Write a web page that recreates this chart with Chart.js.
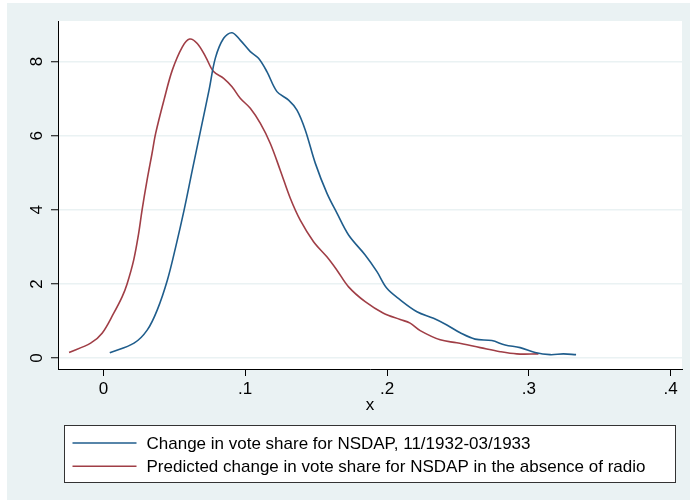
<!DOCTYPE html>
<html>
<head>
<meta charset="utf-8">
<script src="https://cdn.jsdelivr.net/npm/chart.js@4/dist/chart.umd.min.js"></script>
<style>
  body { margin: 0; background: #fff; }
  canvas { display: block; }
</style>
</head>
<body>
<canvas id="grafico" width="690" height="500"></canvas>
<script>
// ticks
const xTicks = [0, 0.1, 0.2, 0.3, 0.4];
const xTickLabels = ['0', '.1', '.2', '.3', '.4'];
const yTicks = [0, 2, 4, 6, 8];

const seriesNames = [
    'Change in vote share for NSDAP, 11/1932-03/1933',
    'Predicted change in vote share for NSDAP in the absence of radio'
];

// densidade observada (azul)
const actualX = [0.0045, 0.0216, 0.031, 0.038, 0.0451, 0.051, 0.0569, 0.0627, 0.0686, 0.0745, 0.079,
    0.0848, 0.0907, 0.0965, 0.1036, 0.1094, 0.1153, 0.1224, 0.1306, 0.1365, 0.1424, 0.1494, 0.1576,
    0.1647, 0.1729, 0.1846, 0.1929, 0.1999, 0.2093, 0.2211, 0.2328, 0.2422, 0.2516, 0.2621, 0.2739,
    0.2833, 0.2939, 0.3044, 0.315, 0.3244, 0.3333];
const actualY = [0.14, 0.40, 0.76, 1.30, 2.1, 3.0, 3.99, 5.07, 6.15, 7.23, 8.1,
    8.63, 8.78, 8.58, 8.27, 8.09, 7.73, 7.19, 6.96, 6.69, 6.15, 5.26, 4.45,
    3.91, 3.32, 2.78, 2.33, 1.88, 1.57, 1.25, 1.07, 0.89, 0.68, 0.51, 0.47,
    0.35, 0.28, 0.15, 0.09, 0.11, 0.09];

// densidade prevista sem rádio (vermelho)
const noRadioX = [-0.0242, -0.009, -0.0009, 0.0073, 0.0132, 0.0167, 0.0214, 0.0249, 0.0273, 0.0308,
    0.0343, 0.0369, 0.0427, 0.0486,
    0.0557, 0.0608, 0.0662, 0.0721, 0.0777, 0.0848, 0.0907, 0.0965, 0.1036, 0.1107, 0.1177, 0.1247,
    0.1318, 0.1388, 0.1482, 0.1576, 0.1647, 0.1729, 0.1846, 0.1975, 0.2093, 0.2163, 0.2234, 0.2375,
    0.2492, 0.2657, 0.2798, 0.2915, 0.3068];
const noRadioY = [0.15, 0.40, 0.67, 1.21, 1.65, 2.0, 2.65, 3.37, 4.0, 4.8,
    5.52, 6.07, 6.96, 7.77,
    8.4, 8.61, 8.49, 8.13, 7.73, 7.55, 7.32, 7.01, 6.74, 6.33, 5.79, 5.07,
    4.31, 3.72, 3.14, 2.73, 2.37, 1.92, 1.52, 1.21, 1.04, 0.94, 0.74, 0.49,
    0.41, 0.28, 0.17, 0.11, 0.11];

const colors = ['#1F5D8C', '#A03E46'];
const fonte = 'Liberation Sans, Arial, Helvetica, sans-serif';

function pares(xs, ys) {
    return xs.map((x, i) => ({ x: x, y: ys[i] }));
}

const fundo = {
    id: 'fundo',
    beforeDraw(chart) {
        const ctx = chart.ctx;
        const a = chart.chartArea;
        ctx.save();
        ctx.fillStyle = '#fff';
        ctx.fillRect(0, 0, chart.width, chart.height);
        ctx.fillStyle = '#EAF2F3';
        ctx.fillRect(7, 3, chart.width - 7, chart.height - 3);
        ctx.fillStyle = '#fff';
        ctx.fillRect(a.left, a.top, a.right - a.left, a.bottom - a.top);
        ctx.restore();
    }
};

// rótulos do eixo y girados, como no Stata
const rotulosY = {
    id: 'rotulosY',
    afterDraw(chart) {
        const ctx = chart.ctx;
        const sy = chart.scales.y;
        ctx.save();
        ctx.fillStyle = '#000';
        ctx.font = '17px ' + fonte;
        ctx.textAlign = 'center';
        ctx.textBaseline = 'middle';
        yTicks.forEach(v => {
            ctx.save();
            ctx.translate(chart.chartArea.left - 21, sy.getPixelForValue(v));
            ctx.rotate(-Math.PI / 2);
            ctx.fillText(String(v), 0, 0);
            ctx.restore();
        });
        ctx.restore();
    }
};

const legenda = {
    id: 'legenda',
    afterDraw(chart) {
        const ctx = chart.ctx;
        const a = chart.chartArea;
        const bx = Math.round(a.left + 6) + 0.5;
        const bw = Math.round(a.right - a.left - 13);
        const by = 425.5;
        const bh = 57;
        ctx.save();
        ctx.fillStyle = '#fff';
        ctx.fillRect(bx, by, bw, bh);
        ctx.strokeStyle = '#333';
        ctx.lineWidth = 1;
        ctx.strokeRect(bx, by, bw, bh);
        ctx.font = '17px ' + fonte;
        ctx.textBaseline = 'middle';
        ctx.fillStyle = '#000';
        seriesNames.forEach((nome, i) => {
            const y = by + 17.5 + i * 23.3;
            ctx.strokeStyle = colors[i];
            ctx.lineWidth = 1.6;
            ctx.beginPath();
            ctx.moveTo(bx + 8, y);
            ctx.lineTo(bx + 72, y);
            ctx.stroke();
            ctx.fillText(nome, bx + 82, y + 1);
        });
        ctx.restore();
    }
};

new Chart(document.getElementById('grafico'), {
    type: 'scatter',
    data: {
        datasets: [
            {
                label: seriesNames[0],
                data: pares(actualX, actualY),
                showLine: true,
                borderColor: colors[0],
                borderWidth: 1.6,
                pointRadius: 0,
                tension: 0.35
            },
            {
                label: seriesNames[1],
                data: pares(noRadioX, noRadioY),
                showLine: true,
                borderColor: colors[1],
                borderWidth: 1.6,
                pointRadius: 0,
                tension: 0.35
            }
        ]
    },
    options: {
        responsive: false,
        animation: false,
        devicePixelRatio: 1,
        layout: { padding: { left: 0, top: 21, right: 8, bottom: 81 } },
        plugins: {
            legend: { display: false },
            tooltip: { enabled: false }
        },
        scales: {
            x: {
                type: 'linear',
                min: -0.032,
                max: 0.408,
                afterBuildTicks: s => { s.ticks = xTicks.map(v => ({ value: v })); },
                afterFit: s => { s.height = 50; },
                ticks: {
                    color: '#000',
                    font: { family: fonte, size: 17 },
                    padding: 3,
                    maxRotation: 0,
                    callback: (v) => xTickLabels[xTicks.indexOf(v)]
                },
                grid: {
                    drawOnChartArea: false,
                    tickLength: 7,
                    tickColor: '#000'
                },
                border: { color: '#000', width: 1 },
                title: {
                    display: true,
                    text: 'x',
                    color: '#000',
                    font: { family: fonte, size: 17 },
                    padding: { top: 0, bottom: 3 }
                }
            },
            y: {
                type: 'linear',
                min: -0.297,
                max: 9.096,
                afterBuildTicks: s => { s.ticks = yTicks.map(v => ({ value: v })); },
                afterFit: s => { s.width = 58; },
                ticks: {
                    color: 'rgba(0,0,0,0)',
                    font: { family: fonte, size: 17 }
                },
                grid: {
                    color: '#EAF2F3',
                    lineWidth: 1.5,
                    tickLength: 7,
                    tickColor: '#000',
                    tickWidth: 1
                },
                border: { color: '#000', width: 1 }
            }
        }
    },
    plugins: [fundo, rotulosY, legenda]
});
</script>
</body>
</html>
